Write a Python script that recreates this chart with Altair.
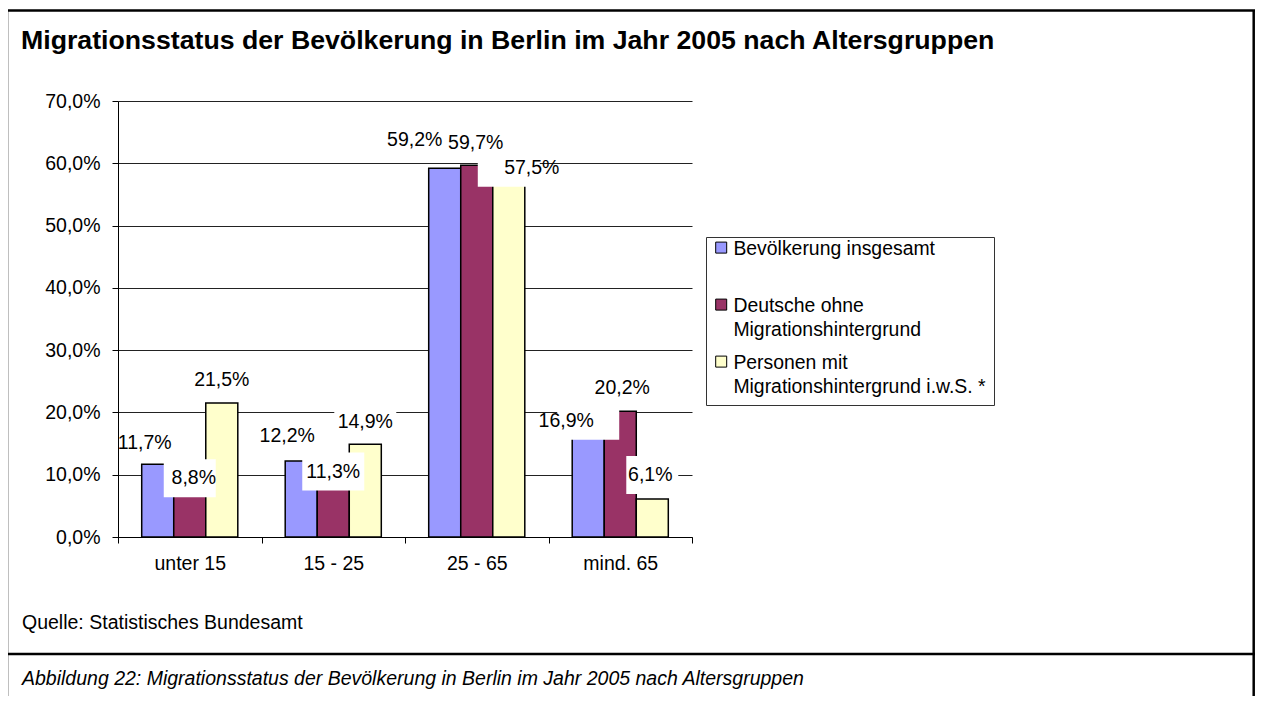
import altair as alt
import pandas as pd

# ---- data -------------------------------------------------------------
categories = ["unter 15", "15 - 25", "25 - 65", "mind. 65"]
series = [
    "Bevölkerung insgesamt",
    "Deutsche ohne Migrationshintergrund",
    "Personen mit Migrationshintergrund i.w.S. *",
]
gesamt = [11.7, 12.2, 59.2, 16.9]
deutsche = [8.8, 11.3, 59.7, 20.2]
migration = [21.5, 14.9, 57.5, 6.1]
y_ticks = [0, 10, 20, 30, 40, 50, 60, 70]

title_text = "Migrationsstatus der Bevölkerung in Berlin im Jahr 2005 nach Altersgruppen"
source_text = "Quelle: Statistisches Bundesamt"
caption_text = ("Abbildung 22: Migrationsstatus der Bevölkerung in Berlin "
                "im Jahr 2005 nach Altersgruppen")

# ---- styling ----------------------------------------------------------
colors = ["#9999FF", "#993366", "#FFFFCC"]
FONT = "Liberation Sans"
FS = 19.5

# label placement (pixel nudges of each data label, Excel-like arrangement)
label_dx = [[-13, -14, -30, -22], [4, 0, -1, 2], [0, 0, 23, -2]]
label_dy = [[-21, -25, -28, -11], [-4, 5, -22, -23], [-23, -22, -11, -24]]

rows = []
for si, (name, vals) in enumerate(zip(series, [gesamt, deutsche, migration])):
    for ci, cat in enumerate(categories):
        txt = f"{vals[ci]:.1f}".replace(".", ",") + "%"
        rows.append({
            "cat": cat, "series": name, "value": vals[ci], "label": txt,
            "ndx": label_dx[si][ci], "ndy": label_dy[si][ci],
            "w": "short" if len(txt) <= 4 else "long",
        })
df = pd.DataFrame(rows)

x_enc = alt.X(
    "cat:N", sort=categories, title=None,
    scale=alt.Scale(paddingInner=0, paddingOuter=0),
    axis=alt.Axis(labelAngle=0, tickBand="extent", ticks=True, tickSize=6,
                  tickColor="black", domainColor="black", labelFontSize=FS,
                  labelColor="black", labelPadding=11, grid=False, zindex=0),
)
xo_enc = alt.XOffset("series:N", sort=series,
                     scale=alt.Scale(paddingInner=0, paddingOuter=0.74))
y_enc = alt.Y(
    "value:Q", title=None,
    scale=alt.Scale(domain=[0, 70], nice=False),
    axis=alt.Axis(values=y_ticks, tickSize=6, tickColor="black",
                  domainColor="black", labelFontSize=FS, labelColor="black",
                  labelPadding=12, grid=True, gridColor="#222222", gridWidth=1,
                  labelExpr="replace(format(datum.value, '.1f'), '.', ',') + '%'",
                  zindex=0),
)

legend = alt.Legend(
    title=None, orient="none", legendX=588, legendY=136,
    strokeColor="#333333", padding=8, fillColor="white",
    labelFontSize=19.4, labelColor="black", labelLimit=0, labelOffset=0,
    labelBaseline="alphabetic",
    labelExpr=("datum.label == 'Bevölkerung insgesamt' ? [datum.label, ''] : "
               "split(replace(replace(datum.label, 'ohne ', 'ohne|'), 'mit ', 'mit|'), '|')"),
    symbolType="M-8,-12.6H3V-1.6H-8Z", symbolSize=4,
    symbolStrokeColor="black", symbolStrokeWidth=1, rowPadding=12,
)

base = alt.Chart(df)

bars = base.mark_bar(stroke="black", strokeWidth=1.5).encode(
    x=x_enc, xOffset=xo_enc, y=y_enc,
    color=alt.Color("series:N", sort=series,
                    scale=alt.Scale(domain=series, range=colors), legend=legend),
)

box_long = "M-31,-19H31V19H-31Z"
box_short = "M-26,-19H26V19H-26Z"
boxes = base.mark_point(
    filled=True, color="white", opacity=1, size=4, strokeWidth=0,
    xOffset={"expr": "datum.ndx"}, yOffset={"expr": "datum.ndy"},
).encode(
    x=alt.X("cat:N", sort=categories), xOffset=alt.XOffset("series:N", sort=series),
    y="value:Q",
    shape=alt.Shape("w:N", scale=alt.Scale(domain=["long", "short"],
                                           range=[box_long, box_short]), legend=None),
)

labels = base.mark_text(
    fontSize=FS, color="black", align="center", baseline="middle",
    dx={"expr": "datum.ndx"}, dy={"expr": "datum.ndy"},
).encode(
    x=alt.X("cat:N", sort=categories), xOffset=alt.XOffset("series:N", sort=series),
    y="value:Q", text="label:N",
)

one = pd.DataFrame({"k": [0]})
frame_style = dict(color="black", strokeWidth=2.5)
frame_top = alt.Chart(one).mark_rule(**frame_style).encode(
    x=alt.value(-111), x2=alt.value(1137), y=alt.value(-90.5))
frame_left = alt.Chart(one).mark_rule(**frame_style).encode(
    x=alt.value(-111), y=alt.value(-91), y2=alt.value(620))
frame_right = alt.Chart(one).mark_rule(**frame_style).encode(
    x=alt.value(1135.7), y=alt.value(-91), y2=alt.value(620))
frame_sep = alt.Chart(one).mark_rule(**frame_style).encode(
    x=alt.value(-111), x2=alt.value(1137), y=alt.value(553))

title = alt.Chart(one).mark_text(
    align="left", baseline="alphabetic", fontSize=26.7, fontWeight="bold",
    color="black").encode(
    x=alt.value(-97), y=alt.value(-52), text=alt.value(title_text))
source = alt.Chart(one).mark_text(
    align="left", baseline="middle", fontSize=FS, color="black").encode(
    x=alt.value(-96), y=alt.value(522), text=alt.value(source_text))
caption = alt.Chart(one).mark_text(
    align="left", baseline="middle", fontSize=FS, fontStyle="italic", color="black").encode(
    x=alt.value(-96), y=alt.value(578), text=alt.value(caption_text))

chart = alt.layer(
    bars, boxes, labels, frame_top, frame_left, frame_right, frame_sep,
    title, source, caption
).properties(
    width=574, height=436,
    autosize=alt.AutoSizeParams(type="none"),
    padding={"left": 110, "top": 93, "right": 563, "bottom": 159},
)

chart.config = alt.Config(
    font=FONT,
    view=alt.ViewConfig(stroke=None),
    style={"guide-label": {"lineHeight": 24}},
)

chart.save("out.html", embed_options={"renderer": "svg", "actions": False})
